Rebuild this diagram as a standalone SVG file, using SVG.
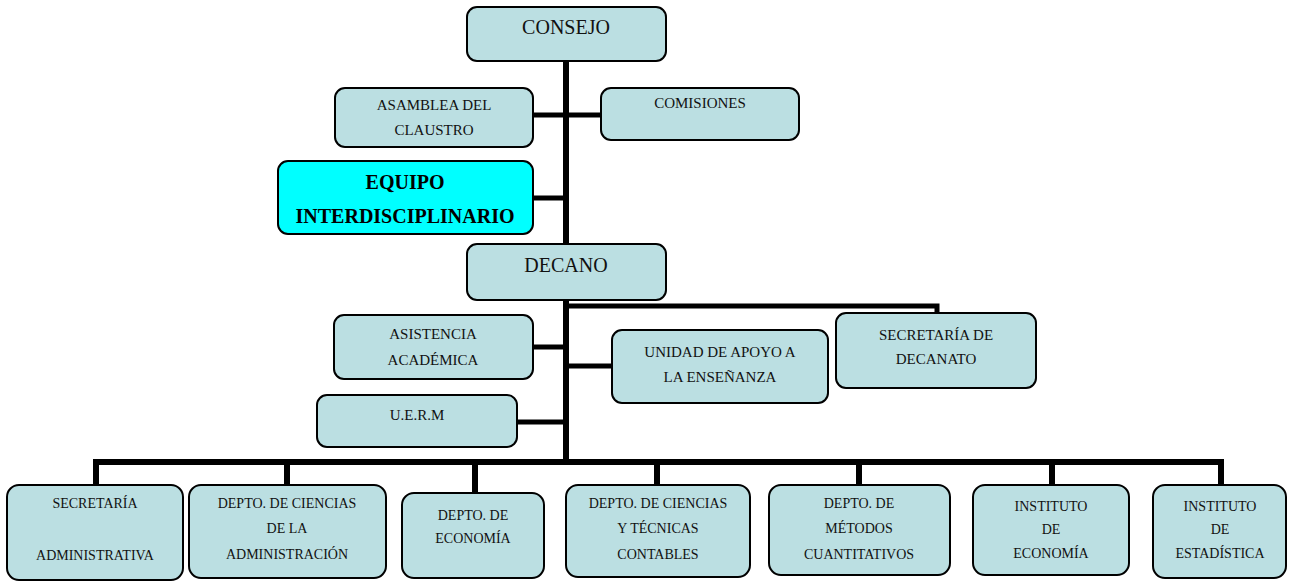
<svg xmlns="http://www.w3.org/2000/svg" width="1289" height="582" viewBox="0 0 1289 582">
  <style>
    .box { fill: #BBDFE2; stroke: #000; stroke-width: 2; }
    .hl { fill: #00FFFF; stroke: #000; stroke-width: 2; }
    .lbl { font-family: "Liberation Serif", "Times New Roman", serif; fill: #111; text-anchor: middle; }
    .big { font-size: 20px; }
    .mid { font-size: 15px; }
    .sm { font-size: 14px; }
    .bold { font-weight: bold; font-size: 20px; fill: #000; }
    .wire { fill: none; stroke: #000; stroke-width: 6; stroke-linecap: butt; }
    .wire-thin { fill: none; stroke: #000; stroke-width: 5; }
  </style>

  <!-- connectors -->
  <g id="connectors">
    <line class="wire" x1="566" y1="61" x2="566" y2="465"/>
    <line class="wire-thin" x1="533" y1="115" x2="601" y2="115"/>
    <line class="wire-thin" x1="533" y1="198" x2="566" y2="198"/>
    <polyline class="wire-thin" points="566,306 937,306 937,313"/>
    <line class="wire-thin" x1="533" y1="347" x2="566" y2="347"/>
    <line class="wire-thin" x1="566" y1="366" x2="612" y2="366"/>
    <line class="wire-thin" x1="517" y1="422" x2="566" y2="422"/>
    <polyline class="wire" points="96,485 96,462 1221,462 1221,485"/>
    <line class="wire" x1="287" y1="462" x2="287" y2="485"/>
    <line class="wire" x1="475" y1="462" x2="475" y2="493"/>
    <line class="wire" x1="657" y1="462" x2="657" y2="485"/>
    <line class="wire" x1="859" y1="462" x2="859" y2="485"/>
    <line class="wire" x1="1052" y1="462" x2="1052" y2="485"/>
  </g>

  <g id="consejo">
    <rect class="box" x="467" y="7" width="199" height="54" rx="10"/>
    <text class="lbl big" x="566" y="34">CONSEJO</text>
  </g>

  <g id="asamblea">
    <rect class="box" x="335" y="88" width="198" height="59" rx="10"/>
    <text class="lbl mid" x="434" y="110">ASAMBLEA DEL</text>
    <text class="lbl mid" x="434" y="135">CLAUSTRO</text>
  </g>

  <g id="comisiones">
    <rect class="box" x="601" y="88" width="198" height="52" rx="10"/>
    <text class="lbl mid" x="700" y="108">COMISIONES</text>
  </g>

  <g id="equipo">
    <rect class="hl" x="278" y="161" width="255" height="73" rx="10"/>
    <text class="lbl bold" x="405" y="189">EQUIPO</text>
    <text class="lbl bold" x="405" y="223">INTERDISCIPLINARIO</text>
  </g>

  <g id="decano">
    <rect class="box" x="467" y="244" width="199" height="56" rx="10"/>
    <text class="lbl big" x="566" y="272">DECANO</text>
  </g>

  <g id="asistencia">
    <rect class="box" x="334" y="315" width="199" height="64" rx="10"/>
    <text class="lbl mid" x="433" y="339">ASISTENCIA</text>
    <text class="lbl mid" x="433" y="365">ACADÉMICA</text>
  </g>

  <g id="unidad-apoyo">
    <rect class="box" x="612" y="330" width="216" height="73" rx="10"/>
    <text class="lbl mid" x="720" y="357">UNIDAD DE APOYO A</text>
    <text class="lbl mid" x="720" y="382">LA ENSEÑANZA</text>
  </g>

  <g id="secretaria-decanato">
    <rect class="box" x="836" y="313" width="200" height="75" rx="10"/>
    <text class="lbl mid" x="936" y="340">SECRETARÍA DE</text>
    <text class="lbl mid" x="936" y="364">DECANATO</text>
  </g>

  <g id="uerm">
    <rect class="box" x="317" y="395" width="200" height="52" rx="10"/>
    <text class="lbl mid" x="417" y="420">U.E.R.M</text>
  </g>

  <g id="secretaria-administrativa">
    <rect class="box" x="7" y="485" width="176" height="95" rx="12"/>
    <text class="lbl sm" x="95" y="508">SECRETARÍA</text>
    <text class="lbl sm" x="95" y="560">ADMINISTRATIVA</text>
  </g>

  <g id="depto-administracion">
    <rect class="box" x="189" y="485" width="197" height="93" rx="12"/>
    <text class="lbl sm" x="287" y="508">DEPTO. DE CIENCIAS</text>
    <text class="lbl sm" x="287" y="533">DE LA</text>
    <text class="lbl sm" x="287" y="559">ADMINISTRACIÓN</text>
  </g>

  <g id="depto-economia">
    <rect class="box" x="402" y="493" width="142" height="85" rx="12"/>
    <text class="lbl sm" x="473" y="520">DEPTO. DE</text>
    <text class="lbl sm" x="473" y="543">ECONOMÍA</text>
  </g>

  <g id="depto-contables">
    <rect class="box" x="566" y="485" width="184" height="92" rx="12"/>
    <text class="lbl sm" x="658" y="508">DEPTO. DE CIENCIAS</text>
    <text class="lbl sm" x="658" y="533">Y TÉCNICAS</text>
    <text class="lbl sm" x="658" y="559">CONTABLES</text>
  </g>

  <g id="depto-metodos">
    <rect class="box" x="769" y="485" width="181" height="90" rx="12"/>
    <text class="lbl sm" x="859" y="508">DEPTO. DE</text>
    <text class="lbl sm" x="859" y="533">MÉTODOS</text>
    <text class="lbl sm" x="859" y="559">CUANTITATIVOS</text>
  </g>

  <g id="instituto-economia">
    <rect class="box" x="973" y="485" width="156" height="90" rx="12"/>
    <text class="lbl sm" x="1051" y="511">INSTITUTO</text>
    <text class="lbl sm" x="1051" y="534">DE</text>
    <text class="lbl sm" x="1051" y="558">ECONOMÍA</text>
  </g>

  <g id="instituto-estadistica">
    <rect class="box" x="1153" y="485" width="133" height="93" rx="12"/>
    <text class="lbl sm" x="1220" y="511">INSTITUTO</text>
    <text class="lbl sm" x="1220" y="534">DE</text>
    <text class="lbl sm" x="1220" y="558">ESTADÍSTICA</text>
  </g>
</svg>
